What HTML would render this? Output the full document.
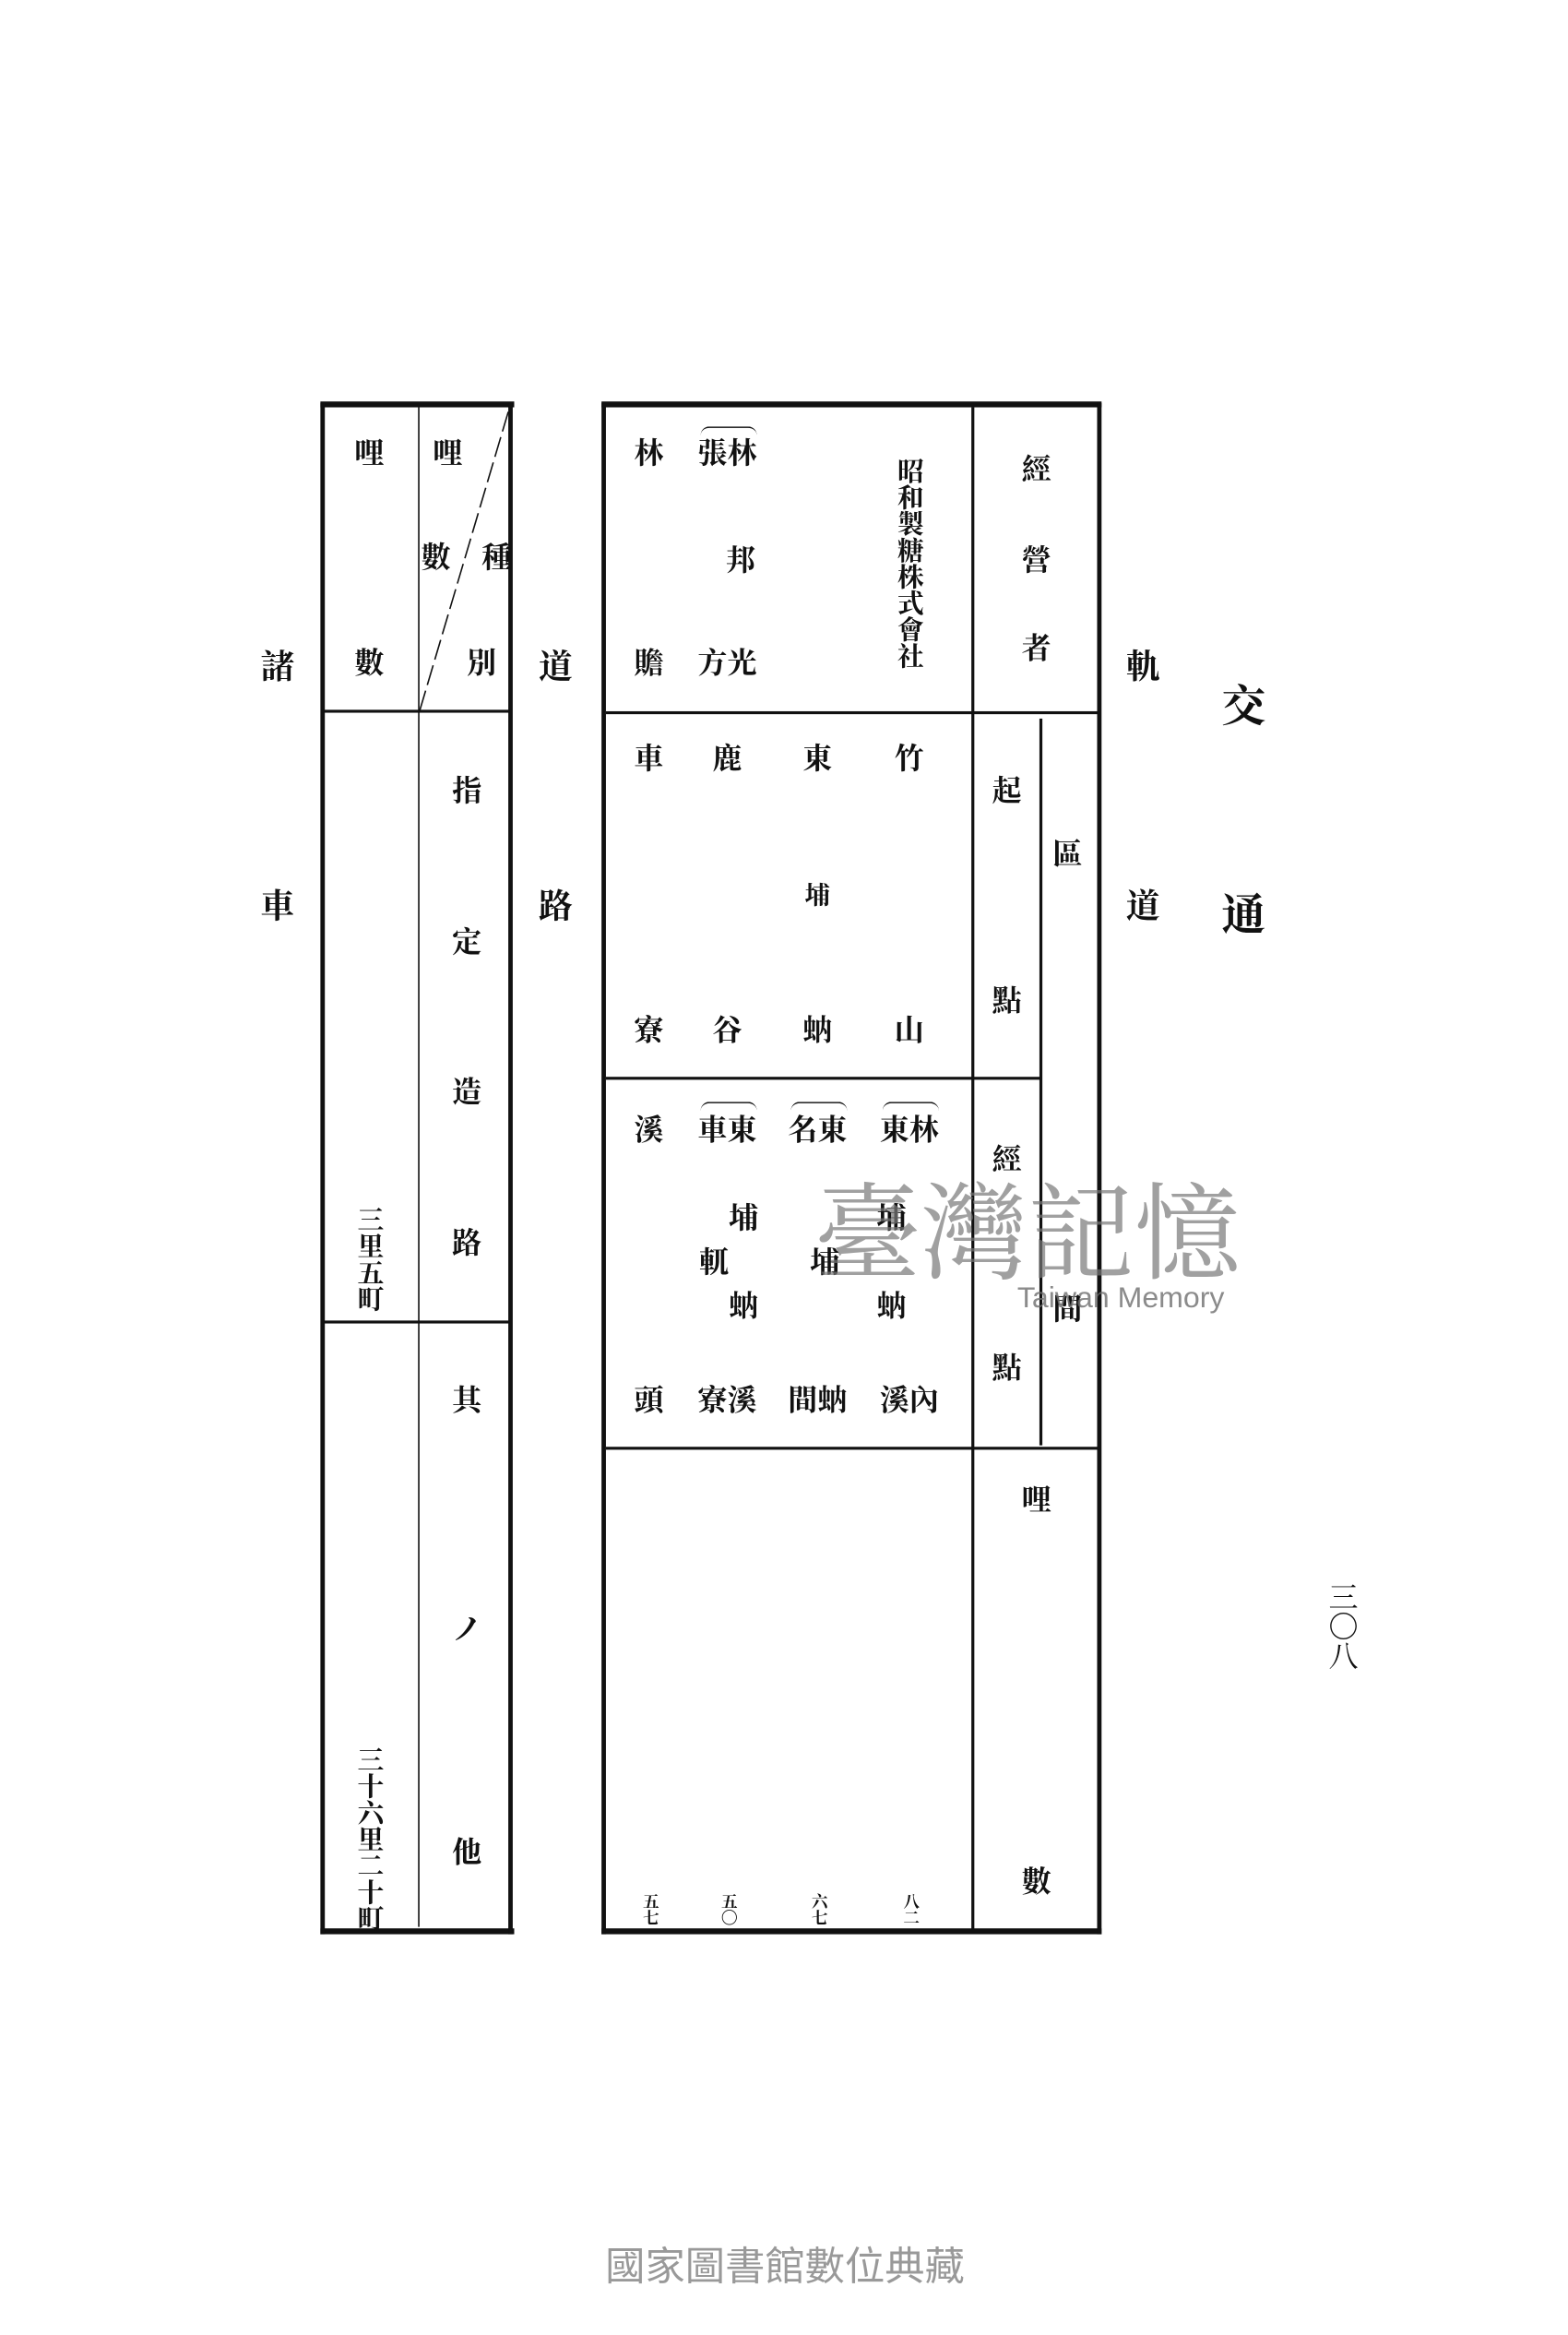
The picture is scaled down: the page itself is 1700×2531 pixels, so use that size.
<!DOCTYPE html>
<html><head><meta charset="utf-8">
<style>
html,body{margin:0;padding:0;background:#fff;}
body{width:1700px;height:2500px;overflow:hidden;position:relative;}
#s{position:absolute;left:0;top:0;width:1080px;height:1588px;transform:translate(-3.9px,3.9px) scale(1.604,1.5914);transform-origin:0 0;}
.c{position:absolute;transform:translate(-50%,-50%);font-family:"Liberation Serif","Noto Serif CJK SC","Noto Sans CJK SC",serif;font-weight:bold;font-size:20px;line-height:1;color:#111;white-space:nowrap;}
.v{writing-mode:vertical-rl;letter-spacing:0px;}
.b{position:absolute;background:#111;}
.big{font-size:30px;}
.t{font-size:23px;}
.br{position:absolute;height:6px;border-top:1.5px solid #111;border-radius:6px 6px 0 0;}
</style></head><body><div id="s">

<!-- left table -->
<div class="b" style="left:219px;top:271px;width:131px;height:4px"></div>
<div class="b" style="left:219px;top:1311px;width:131px;height:4px"></div>
<div class="b" style="left:219px;top:272px;width:3px;height:1043px"></div>
<div class="b" style="left:346px;top:272px;width:3px;height:1043px"></div>
<div class="b" style="left:285px;top:275px;width:1px;height:1035px"></div>
<div class="b" style="left:221px;top:481px;width:126px;height:1.5px"></div>
<div class="b" style="left:221px;top:897px;width:126px;height:1.5px"></div>
<svg style="position:absolute;left:0;top:0" width="1080" height="1588"><line x1="346" y1="278" x2="286" y2="482" stroke="#111" stroke-width="1" stroke-dasharray="14 4"/></svg>

<span class="c" style="left:252px;top:307px">哩</span>
<span class="c" style="left:252px;top:450px">數</span>
<span class="c" style="left:305px;top:307px">哩</span>
<span class="c" style="left:297px;top:378px">數</span>
<span class="c" style="left:338px;top:378px">種</span>
<span class="c" style="left:328px;top:450px">別</span>
<span class="c" style="left:318px;top:537px">指</span>
<span class="c" style="left:318px;top:640px">定</span>
<span class="c" style="left:318px;top:742px">造</span>
<span class="c" style="left:318px;top:845px">路</span>
<span class="c" style="left:318px;top:952px">其</span>
<span class="c" style="left:318px;top:1108px">ノ</span>
<span class="c" style="left:318px;top:1260px">他</span>
<span class="c v" style="left:252px;top:855px;font-size:18px">三里五町</span>
<span class="c v" style="left:252px;top:1250px;font-size:18px">三十六里二十町</span>

<!-- outside labels -->
<span class="c t" style="left:190px;top:452px">諸</span>
<span class="c t" style="left:190px;top:615px">車</span>
<span class="c t" style="left:378px;top:452px">道</span>
<span class="c t" style="left:378px;top:615px">路</span>
<span class="c t" style="left:775px;top:452px">軌</span>
<span class="c t" style="left:775px;top:615px">道</span>
<span class="c big" style="left:843px;top:480px">交</span>
<span class="c big" style="left:843px;top:622px">通</span>
<span class="c v" style="left:908px;top:1105px;font-weight:normal;font-size:20px">三〇八</span>

<!-- right table -->
<div class="b" style="left:409px;top:271px;width:338px;height:4px"></div>
<div class="b" style="left:409px;top:1311px;width:338px;height:4px"></div>
<div class="b" style="left:409px;top:272px;width:3px;height:1043px"></div>
<div class="b" style="left:744px;top:272px;width:3px;height:1043px"></div>
<div class="b" style="left:659px;top:275px;width:1.5px;height:1037px"></div>
<div class="b" style="left:705px;top:487px;width:1.5px;height:495px"></div>
<div class="b" style="left:412px;top:482px;width:333px;height:1.5px"></div>
<div class="b" style="left:412px;top:731px;width:294px;height:1.5px"></div>
<div class="b" style="left:412px;top:983px;width:333px;height:1.5px"></div>

<span class="c" style="left:703px;top:318px">經</span>
<span class="c" style="left:703px;top:380px">營</span>
<span class="c" style="left:703px;top:440px">者</span>
<span class="c v" style="left:617px;top:381px;font-size:18px">昭和製糖株式會社</span>
<span class="br" style="left:476px;top:288px;width:38px"></span>
<span class="c" style="left:494px;top:307px">張林</span>
<span class="c" style="left:503px;top:380px">邦</span>
<span class="c" style="left:494px;top:450px">方光</span>
<span class="c" style="left:441px;top:307px">林</span>
<span class="c" style="left:441px;top:450px">贍</span>

<span class="c" style="left:683px;top:537px">起</span>
<span class="c" style="left:683px;top:680px">點</span>
<span class="c" style="left:683px;top:788px">經</span>
<span class="c" style="left:683px;top:930px">點</span>
<span class="c" style="left:724px;top:580px">區</span>
<span class="c" style="left:724px;top:890px">間</span>

<span class="c" style="left:617px;top:515px">竹</span>
<span class="c" style="left:617px;top:700px">山</span>
<span class="c" style="left:555px;top:515px">東</span>
<span class="c" style="left:555px;top:608px;font-size:17px">埔</span>
<span class="c" style="left:555px;top:700px">蚋</span>
<span class="c" style="left:494px;top:515px">鹿</span>
<span class="c" style="left:494px;top:700px">谷</span>
<span class="c" style="left:441px;top:515px">車</span>
<span class="c" style="left:441px;top:700px">寮</span>

<span class="br" style="left:599px;top:748px;width:38px"></span>
<span class="c" style="left:617px;top:768px">東林</span>
<span class="c" style="left:605px;top:828px">埔</span>
<span class="c" style="left:605px;top:888px">蚋</span>
<span class="c" style="left:617px;top:952px">溪內</span>
<span class="br" style="left:537px;top:748px;width:38px"></span>
<span class="c" style="left:555px;top:768px">名東</span>
<span class="c" style="left:560px;top:858px">埔</span>
<span class="c" style="left:555px;top:952px">間蚋</span>
<span class="br" style="left:476px;top:748px;width:38px"></span>
<span class="c" style="left:494px;top:768px">車東</span>
<span class="c" style="left:505px;top:828px">埔</span>
<span class="c" style="left:485px;top:858px">軏</span>
<span class="c" style="left:505px;top:888px">蚋</span>
<span class="c" style="left:494px;top:952px">寮溪</span>
<span class="c" style="left:441px;top:768px">溪</span>
<span class="c" style="left:441px;top:952px">頭</span>

<span class="c" style="left:703px;top:1020px">哩</span>
<span class="c" style="left:703px;top:1280px">數</span>
<span class="c v" style="left:441px;top:1298px;font-size:11px">五七</span>
<span class="c v" style="left:494px;top:1298px;font-size:11px">五〇</span>
<span class="c v" style="left:555px;top:1298px;font-size:11px">六七</span>
<span class="c v" style="left:617px;top:1298px;font-size:11px">八二</span>

<!-- watermark -->
<span class="c" style="left:697px;top:832px;font-size:72px;color:rgba(120,120,120,0.7);font-weight:normal;font-family:'Noto Serif CJK SC',serif">臺灣記憶</span>
<span class="c" style="left:760px;top:882px;font-size:20px;color:rgba(110,110,110,0.8);font-weight:normal;font-family:'Liberation Sans',sans-serif">Taiwan Memory</span>

<span class="c" style="left:533px;top:1542px;font-size:27px;color:#999;font-weight:normal;font-family:'Liberation Sans','Noto Sans CJK TC',sans-serif">國家圖書館數位典藏</span>
</div></body></html>
